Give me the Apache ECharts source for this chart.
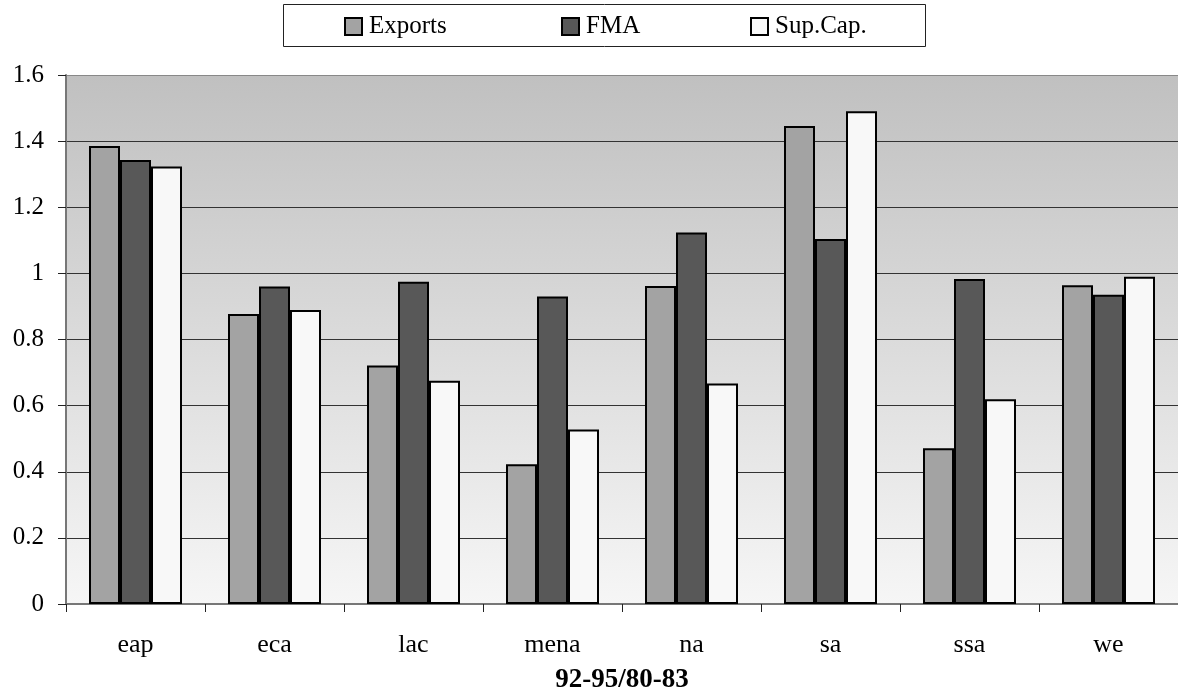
<!DOCTYPE html>
<html>
<head>
<meta charset="utf-8">
<script src="https://cdn.jsdelivr.net/npm/echarts@6/dist/echarts.min.js"></script>
<style>html,body{margin:0;padding:0;background:#fff}#c{width:1178px;height:694px}</style>
</head>
<body>
<div id="c"></div>
<script>
const categories = ['eap','eca','lac','mena','na','sa','ssa','we'];
const exportsVals = [1.385, 0.877, 0.721, 0.423, 0.962, 1.446, 0.471, 0.964];
const fmaVals     = [1.343, 0.960, 0.975, 0.930, 1.124, 1.104, 0.983, 0.935];
const supCapVals  = [1.323, 0.889, 0.675, 0.528, 0.667, 1.490, 0.619, 0.990];
const seriesNames = ['Exports','FMA','Sup.Cap.'];
const seriesColors = ['#a3a3a3','#585858','#f8f8f8'];
const xAxisName = '92-95/80-83';

const FONT = '"Liberation Serif", "Times New Roman", serif';
const chart = echarts.init(document.getElementById('c'));
const legendPos = [344, 561, 750];
const option = {
  animation: false,
  textStyle: {fontFamily: FONT},
  graphic: [{
    type: 'rect', left: 283, top: 4, z: 0,
    shape: {width: 642, height: 42},
    style: {fill: '#fff', stroke: '#222', lineWidth: 1}
  }],
  legend: seriesNames.map((n, i) => ({
    data: [n], left: legendPos[i], top: 14, z: 10, padding: 0,
    icon: 'rect', itemWidth: 17, itemHeight: 17, itemGap: 4,
    itemStyle: {borderColor: '#000', borderWidth: 2},
    textStyle: {fontFamily: FONT, fontSize: 25, color: '#000', padding: [0,0,0,2]}
  })),
  grid: {
    left: 66, right: 0, top: 75, bottom: 90, show: true,
    containLabel: false, outerBoundsMode: 'none',
    borderWidth: 0,
    backgroundColor: new echarts.graphic.LinearGradient(0, 0, 0, 1, [
      {offset: 0, color: '#c0c0c0'}, {offset: 1, color: '#f6f6f6'}
    ])
  },
  xAxis: {
    type: 'category', data: categories,
    name: xAxisName, nameLocation: 'middle', nameGap: 63,
    nameTextStyle: {fontFamily: FONT, fontSize: 27, fontWeight: 'bold', color: '#000'},
    axisLine: {lineStyle: {color: '#777', width: 2}},
    axisTick: {show: true, length: 8, lineStyle: {color: '#222'}},
    axisLabel: {fontFamily: FONT, fontSize: 26, color: '#000', margin: 28}
  },
  yAxis: {
    type: 'value', min: 0, max: 1.6, interval: 0.2,
    axisLine: {show: true, lineStyle: {color: '#777', width: 2}},
    axisTick: {show: true, length: 8, lineStyle: {color: '#222'}},
    axisLabel: {fontFamily: FONT, fontSize: 25, color: '#000', margin: 22,
      formatter: v => String(Math.round(v * 10) / 10)},
    splitLine: {lineStyle: {color: ['#333','#333','#333','#333','#333','#333','#333','#333','#888'], width: 1}}
  },
  series: [exportsVals, fmaVals, supCapVals].map((d, i) => ({
    name: seriesNames[i], type: 'bar', data: d,
    barWidth: 31, barGap: '0%',
    itemStyle: {color: seriesColors[i], borderColor: '#000', borderWidth: 2}
  }))
};
chart.setOption(option);
</script>
</body>
</html>
